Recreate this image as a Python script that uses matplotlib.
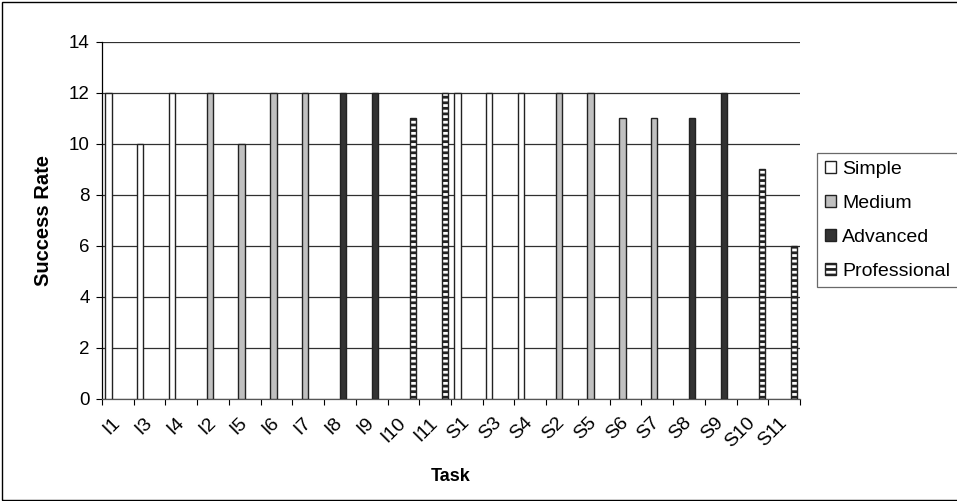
import numpy as np
import matplotlib
matplotlib.use("Agg")
import matplotlib.pyplot as plt
import matplotlib.transforms as mtransforms
from matplotlib.patches import Rectangle

plt.rcParams['font.family'] = ['Liberation Sans', 'DejaVu Sans']
plt.rcParams['hatch.linewidth'] = 2.0

# task labels, one bar per task
tasks = ["I1", "I3", "I4", "I2", "I5", "I6", "I7", "I8", "I9", "I10", "I11",
         "S1", "S3", "S4", "S2", "S5", "S6", "S7", "S8", "S9", "S10", "S11"]
simple = [12, 10, 12, 0, 0, 0, 0, 0, 0, 0, 0,
          12, 12, 12, 0, 0, 0, 0, 0, 0, 0, 0]
medium = [0, 0, 0, 12, 10, 12, 12, 0, 0, 0, 0,
          0, 0, 0, 12, 12, 11, 11, 0, 0, 0, 0]
advanced = [0, 0, 0, 0, 0, 0, 0, 12, 12, 0, 0,
            0, 0, 0, 0, 0, 0, 0, 11, 12, 0, 0]
professional = [0, 0, 0, 0, 0, 0, 0, 0, 0, 11, 12,
                0, 0, 0, 0, 0, 0, 0, 0, 0, 9, 6]

series = [("Simple", simple, "white", None),
          ("Medium", medium, "#c0c0c0", None),
          ("Advanced", advanced, "#333333", None),
          ("Professional", professional, "white", "---")]

fig = plt.figure(figsize=(9.57, 5.01), dpi=100)
ax = fig.add_axes([0.1066, 0.2036, 0.7294, 0.7126])

x = np.arange(len(tasks))
w = 0.2
for k, (name, vals, color, hatch) in enumerate(series):
    vals = np.array(vals, dtype=float)
    m = vals > 0
    ax.bar(x[m] - 0.4 + w * (k + 0.5), vals[m], width=w, color=color,
           edgecolor="#222222", linewidth=1.0, hatch=hatch, label=name, zorder=3)

ax.set_xlim(-0.5, len(tasks) - 0.5)
ax.set_ylim(0, 14)
ax.set_yticks(range(0, 15, 2))
ax.yaxis.grid(True, color="#303030", linewidth=0.9, zorder=0)
ax.set_axisbelow(True)

ax.set_xticks(x)
ax.set_xticklabels(tasks, rotation=45, ha="right", rotation_mode="anchor", fontsize=14)
ax.tick_params(axis="x", length=0, pad=11)
shift = mtransforms.ScaledTranslation(-6 / 100, 0, fig.dpi_scale_trans)
for lab in ax.get_xticklabels():
    lab.set_transform(lab.get_transform() + shift)
ax.set_xticks(np.arange(-0.5, len(tasks), 1), minor=True)
ax.tick_params(axis="x", which="minor", length=4, direction="out", width=0.8)
ax.tick_params(axis="y", length=4, direction="out", width=0.8, labelsize=13.5, pad=5)

for s in ["top", "right"]:
    ax.spines[s].set_visible(False)
ax.spines["left"].set_linewidth(0.9)
ax.spines["bottom"].set_linewidth(0.9)
ax.spines["bottom"].set_color("#555555")

ax.set_xlabel("Task", fontsize=13, fontweight="bold", labelpad=12)
ax.set_ylabel("Success Rate", fontsize=14.5, fontweight="bold", labelpad=11)

leg = fig.legend(loc="upper left", bbox_to_anchor=(817 / 957, 1 - 153 / 501),
                 fontsize=14, frameon=True, fancybox=False, handlelength=0.6,
                 handleheight=0.6, handletextpad=0.3, labelspacing=0.87,
                 borderpad=0.4, borderaxespad=0)
leg.get_frame().set_edgecolor("#444444")
leg.get_frame().set_linewidth(0.9)

fig.patches.append(Rectangle((2 / 957, 1 / 501), 1.0, 1 - 2.5 / 501,
                             transform=fig.transFigure, fill=False,
                             edgecolor="black", linewidth=1.0))

fig.savefig("out.png", dpi=100)
